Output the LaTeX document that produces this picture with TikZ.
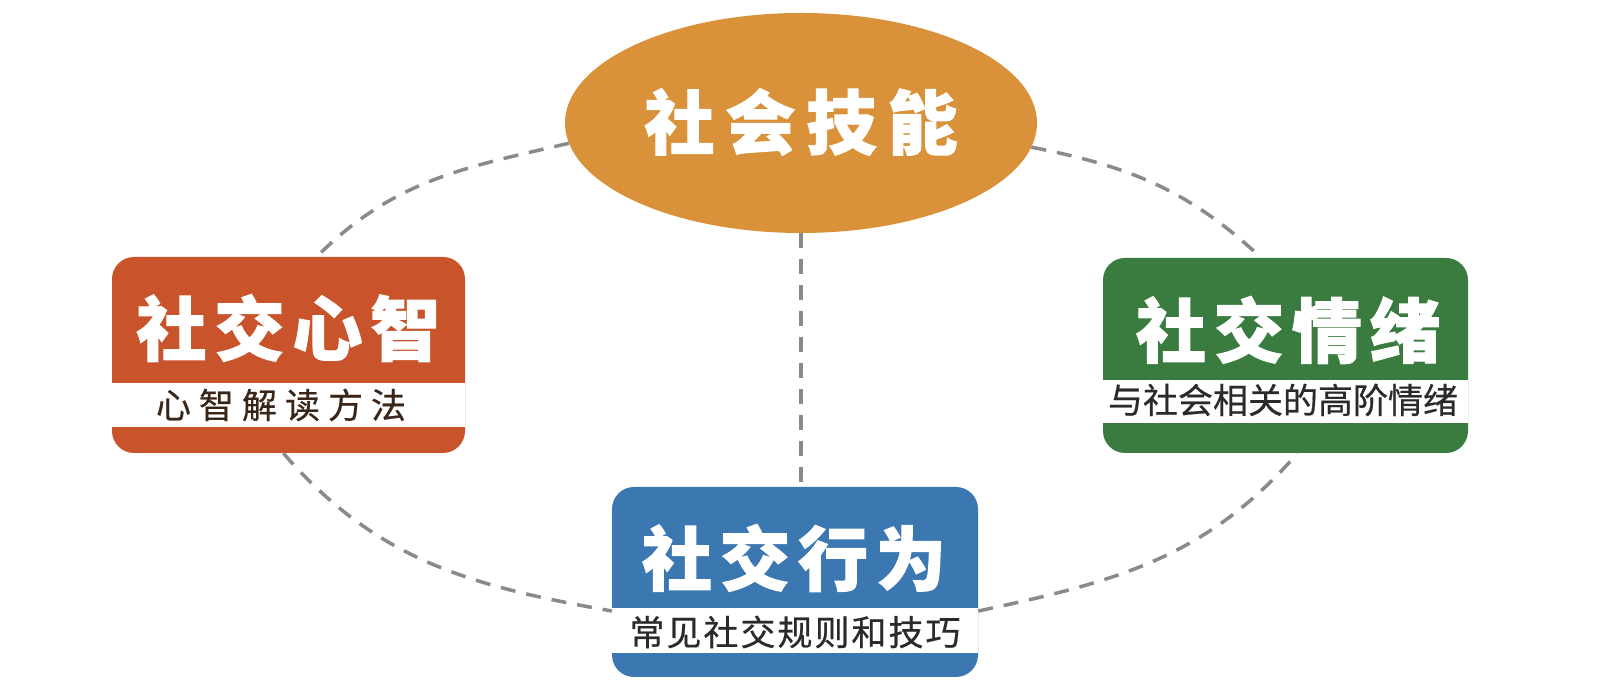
\documentclass[tikz,border=0pt]{standalone}
\usepackage{fontspec}
\newfontfamily\cjk{Noto Sans CJK SC}[FakeBold=0.5]
\newfontfamily\cjkb{Noto Sans CJK SC Bold}[FakeBold=1.6]
\usetikzlibrary{shapes.geometric,calc}
\definecolor{skorange}{HTML}{D9913A}
\definecolor{mindred}{HTML}{C9532A}
\definecolor{behblue}{HTML}{3B78B1}
\definecolor{emogreen}{HTML}{3A7B3F}
\definecolor{linkgray}{HTML}{8A8A8A}
\definecolor{subbrown}{HTML}{3A2519}
\definecolor{subdark}{HTML}{2A2A2A}
\begin{document}
\begin{tikzpicture}[x=1pt,y=1pt,
  title/.style={text=white,font=\cjkb\bfseries\fontsize{70}{70}\selectfont,inner sep=0pt},
  sub/.style={font=\cjk\fontsize{35}{35}\selectfont,inner sep=0pt},
  card/.style={rectangle,rounded corners=22pt,inner sep=0pt},
  link/.style={draw=linkgray,line width=3.5pt,dash pattern=on 15pt off 11pt}]
\useasboundingbox (0,0) rectangle (1600,695);
\fill[white] (0,0) rectangle (1600,695);
% central ellipse
\node[ellipse,fill=skorange,minimum width=472pt,minimum height=220pt,inner sep=0pt] (sk) at (801,572) {};
\node[title] (skt) at (801,573) {社\kern11pt 会\kern11pt 技\kern11pt 能};
% left card
\node[card,fill=mindred,minimum width=353pt,minimum height=196pt] (lb) at (288.5,340) {};
\fill[white] (112,268) rectangle (465,312);
\node[title] (lbt) at (288.5,367) {社\kern8pt 交\kern8pt 心\kern8pt 智};
\node[sub,text=subbrown] (lbs) at (281,290) {心\kern8pt 智\kern8pt 解\kern8pt 读\kern8pt 方\kern8pt 法};
% bottom card
\node[card,fill=behblue,minimum width=366pt,minimum height=190pt] (bb) at (795,113) {};
\fill[white] (612,42) rectangle (978,87);
\node[title] (bbt) at (794,137) {社\kern8pt 交\kern8pt 行\kern8pt 为};
\node[sub,text=subdark] (bbs) at (795,63) {常\kern2pt 见\kern2pt 社\kern2pt 交\kern2pt 规\kern2pt 则\kern2pt 和\kern2pt 技\kern2pt 巧};
% right card
\node[card,fill=emogreen,minimum width=365pt,minimum height=195pt] (gb) at (1285.5,339.5) {};
\fill[white] (1103,272) rectangle (1468,315);
\node[title] (gbt) at (1288,365) {社\kern8pt 交\kern8pt 情\kern8pt 绪};
\node[sub,text=subdark] (gbs) at (1283,295) {与社会相关的高阶情绪};
% dashed links
\draw[link] (sk.185) to[out=193,in=45] (lb.74);
\draw[link] (lb.267) to[out=311,in=170] (bb.189);
\draw[link] (bb.351) to[out=12,in=229] (gb.277);
\draw[link] (sk.354) to[out=349,in=137] (gb.104);
\draw[link] (sk.south) -- (sk.south |- bb.north);
\end{tikzpicture}
\end{document}
